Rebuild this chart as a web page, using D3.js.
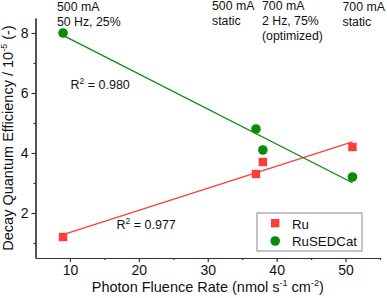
<!DOCTYPE html>
<html>
<head>
<meta charset="utf-8">
<script src="https://cdn.jsdelivr.net/npm/d3@7"></script>
<style>
    body { margin: 0; background: #fff; }
    svg { display: block; font-family: "Liberation Sans", Arial, sans-serif; }
</style>
</head>
<body>
<svg id="chart"></svg>
<script>
// photon fluence rate (nmol s-1 cm-2)
var fluence = [9, 37, 38, 51];
var ruValues = [1.2, 3.3, 3.7, 4.2];
var sedcatValues = [8.0, 4.8, 4.1, 3.2];
var xTicks = [10, 20, 30, 40, 50];
var xMinor = [15, 25, 35, 45, 55];
var yTicks = [2, 4, 6, 8];
var yMinor = [1, 3, 5, 7];
var conditions = [
    ["500 mA", "50 Hz, 25%"],
    ["500 mA", "static"],
    ["700 mA", "2 Hz, 75%", "(optimized)"],
    ["700 mA", "static"]
];
var r2Labels = ["0.977", "0.980"];

var width = 387,
    height = 298,
    margin = {top: 18, right: 7, bottom: 40, left: 35.5};

var red = "#ff3b3b",
    green = "#0a8c0a";

var svg = d3.select("#chart")
    .attr("width", width)
    .attr("height", height);

var x = d3.scaleLinear().domain([5, 55]).range([margin.left, width - margin.right]);
var y = d3.scaleLinear().domain([0.5, 8.5]).range([height - margin.bottom, margin.top]);

// least squares fit
function fit(xs, ys) {
    var mx = d3.mean(xs), my = d3.mean(ys);
    var sxy = d3.sum(xs, function(d, i) { return (d - mx) * (ys[i] - my); });
    var sxx = d3.sum(xs, function(d) { return (d - mx) * (d - mx); });
    var slope = sxy / sxx;
    return function(v) { return my + slope * (v - mx); };
}

// axes
svg.append("g")
    .attr("transform", "translate(0," + y.range()[0] + ")")
    .call(d3.axisBottom(x).tickValues(xTicks).tickSize(4).tickPadding(3).tickSizeOuter(0));
svg.append("g")
    .attr("transform", "translate(0," + y.range()[0] + ")")
    .call(d3.axisBottom(x).tickValues(xMinor).tickSize(2).tickFormat("").tickSizeOuter(0));

svg.append("g")
    .attr("transform", "translate(" + x.range()[0] + ",0)")
    .call(d3.axisLeft(y).tickValues(yTicks).tickSize(4).tickPadding(3).tickSizeOuter(0));
svg.append("g")
    .attr("transform", "translate(" + x.range()[0] + ",0)")
    .call(d3.axisLeft(y).tickValues(yMinor).tickSize(2).tickFormat("").tickSizeOuter(0));

svg.selectAll(".domain, .tick line").attr("stroke", "#333").attr("stroke-width", 1.2);
svg.selectAll(".tick text").attr("font-size", 14).attr("fill", "#111")
    .attr("font-family", "Liberation Sans, Arial, sans-serif");

// axis titles
var xTitle = svg.append("text")
    .attr("x", (x.range()[0] + x.range()[1]) / 2)
    .attr("y", 292)
    .attr("text-anchor", "middle")
    .attr("font-size", 14.5)
    .attr("fill", "#111");
xTitle.append("tspan").text("Photon Fluence Rate (nmol s");
xTitle.append("tspan").attr("font-size", 9).attr("dy", -6).text("-1");
xTitle.append("tspan").attr("dy", 6).text(" cm");
xTitle.append("tspan").attr("font-size", 9).attr("dy", -6).text("-2");
xTitle.append("tspan").attr("dy", 6).text(")");

var yTitle = svg.append("text")
    .attr("transform", "translate(13," + (y.range()[0] + y.range()[1]) / 2 + ") rotate(-90)")
    .attr("text-anchor", "middle")
    .attr("font-size", 14.5)
    .attr("fill", "#111");
yTitle.append("tspan").text("Decay Quantum Efficiency / 10");
yTitle.append("tspan").attr("font-size", 9).attr("dy", -6).text("-5");
yTitle.append("tspan").attr("dy", 6).text(" (-)");

// fit lines
var ruFit = fit(fluence, ruValues),
    sedcatFit = fit(fluence, sedcatValues);
var ends = d3.extent(fluence);

svg.append("line")
    .attr("x1", x(ends[0])).attr("y1", y(ruFit(ends[0])))
    .attr("x2", x(ends[1])).attr("y2", y(ruFit(ends[1])))
    .attr("stroke", red).attr("stroke-width", 1.3);
svg.append("line")
    .attr("x1", x(ends[0])).attr("y1", y(sedcatFit(ends[0])))
    .attr("x2", x(ends[1])).attr("y2", y(sedcatFit(ends[1])))
    .attr("stroke", green).attr("stroke-width", 1.3);

// markers
svg.selectAll("rect.ru")
    .data(fluence)
    .enter()
    .append("rect")
    .attr("class", "ru")
    .attr("x", function(d) { return x(d) - 4.2; })
    .attr("y", function(d, i) { return y(ruValues[i]) - 4.2; })
    .attr("width", 8.4)
    .attr("height", 8.4)
    .style("fill", red);

svg.selectAll("circle.sedcat")
    .data(fluence)
    .enter()
    .append("circle")
    .attr("class", "sedcat")
    .attr("cx", function(d) { return x(d); })
    .attr("cy", function(d, i) { return y(sedcatValues[i]); })
    .attr("r", 4.8)
    .style("fill", green);

// R^2 labels
function r2(px, py, value) {
    var t = svg.append("text")
        .attr("x", px).attr("y", py)
        .attr("font-size", 12.5)
        .attr("fill", "#111");
    t.append("tspan").text("R");
    t.append("tspan").attr("font-size", 8.5).attr("dy", -5).text("2");
    t.append("tspan").attr("dy", 5).text(" = " + value);
}
r2(116.5, 229, r2Labels[0]);
r2(70.5, 88.5, r2Labels[1]);

// condition notes on top
var notePos = [[57, 10.5], [212, 10], [262, 10], [342.5, 11]];
conditions.forEach(function(lines, i) {
    var t = svg.append("text")
        .attr("x", notePos[i][0])
        .attr("y", notePos[i][1])
        .attr("font-size", 12.3)
        .attr("fill", "#111");
    lines.forEach(function(l, j) {
        t.append("tspan")
            .attr("x", notePos[i][0])
            .attr("dy", j === 0 ? 0 : 15.2)
            .text(l);
    });
});

// legend
var legend = svg.append("g").attr("transform", "translate(257,213)");
legend.append("rect")
    .attr("width", 105).attr("height", 38)
    .attr("fill", "#fff").attr("stroke", "#888").attr("stroke-width", 1);
legend.append("rect")
    .attr("x", 14).attr("y", 6).attr("width", 8.4).attr("height", 8.4)
    .style("fill", red);
legend.append("circle")
    .attr("cx", 18.2).attr("cy", 28).attr("r", 4.8)
    .style("fill", green);
legend.append("text").attr("x", 35).attr("y", 15.5)
    .attr("font-size", 13.3).attr("fill", "#111").text("Ru");
legend.append("text").attr("x", 35).attr("y", 33)
    .attr("font-size", 13.3).attr("fill", "#111").text("RuSEDCat");
</script>
</body>
</html>
